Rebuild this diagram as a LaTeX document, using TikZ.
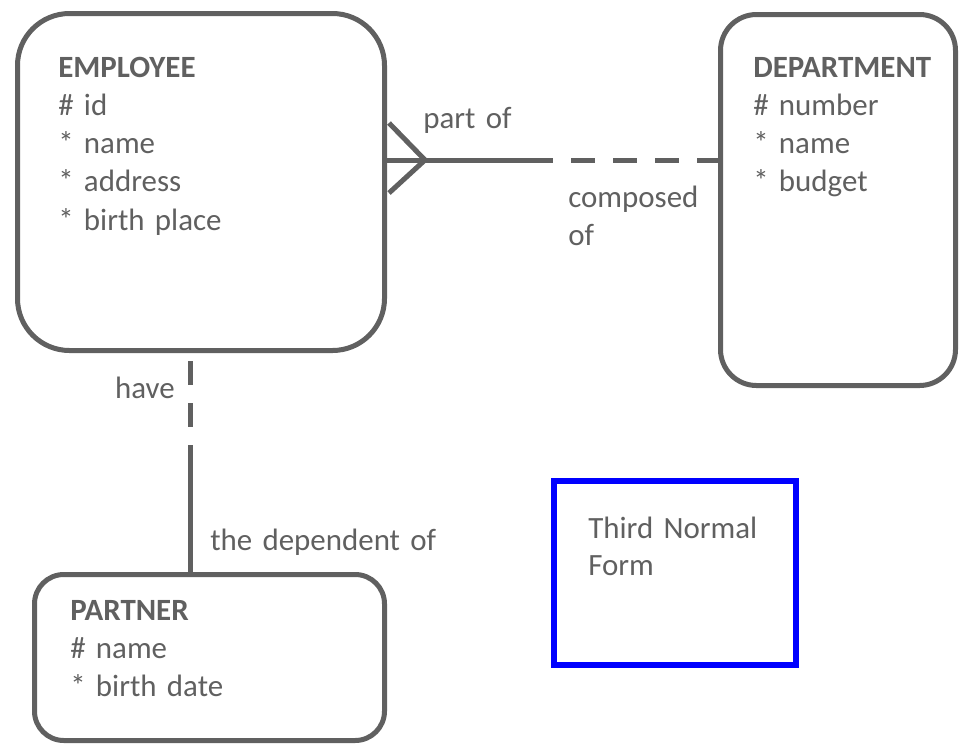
\documentclass[tikz,border=0pt]{standalone}
\usepackage{fontspec}
\setmainfont{Carlito}
\usepackage{xcolor}
\definecolor{erGray}{HTML}{606060}
\definecolor{nfBlue}{HTML}{0000FF}
\newcommand{\pxu}{0.75pt}
\usetikzlibrary{calc}

\begin{document}
\begin{tikzpicture}[x=0.75pt, y=-0.75pt,
    entity/.style={draw=erGray, line width=3.75pt, inner sep=0pt},
    attr/.style={text=erGray, font=\fontsize{23.2}{28.7}\selectfont, inner sep=0pt,
      align=left, text width=#1, anchor=base west},
    attr/.default=180pt,
    rel/.style={draw=erGray, line width=3.75pt},
    optional/.style={rel, dash pattern=on 18pt off 13.5pt}]
  \useasboundingbox (0,0) rectangle (961,744);
  % entities
  \node[entity, rounded corners=39pt, minimum width=367*\pxu, minimum height=337*\pxu]
    (emp) at (201,182) {};
  \node[entity, rounded corners=27pt, minimum width=235*\pxu, minimum height=371*\pxu]
    (dept) at (838,200) {};
  \node[entity, rounded corners=22pt, minimum width=350*\pxu, minimum height=166*\pxu]
    (partner) at (209.5,657.5) {};
  \node[draw=nfBlue, line width=4.5pt, inner sep=0pt, minimum width=242*\pxu,
    minimum height=183.5*\pxu] (nf) at (675,572.75) {};
  % attributes
  \node[attr] (empText) at (58,77)
    {\textbf{EMPLOYEE}\\\# id\\{*} name\\{*} address\\{*} birth place};
  \node[attr] (deptText) at (753,77)
    {\textbf{DEPARTMENT}\\\# number\\{*} name\\{*} budget};
  \node[attr] (partnerText) at (70,620)
    {\textbf{PARTNER}\\\# name\\{*} birth date};
  \node[attr, font=\fontsize{23.2}{27.8}\selectfont] (nfText) at (588,538)
    {Third Normal\\Form};
  % employee -- department
  \coordinate (po) at (553,160);
  \coordinate (cf) at (425,160);
  \draw[rel] (emp.east |- po) -- (po);
  \draw[optional, dash phase=18pt] (po) -- (dept.west |- po);
  \draw[rel, line join=bevel] ($(emp.east |- po)+(2,-37)$) -- (cf)
    -- ($(emp.east |- po)+(2,33)$);
  \node[attr] (partOf) at (423,128) {part of};
  \node[attr, text width=100pt] (composedOf) at (568,207) {composed\\of};
  % employee -- partner
  \coordinate (hv) at (190,462);
  \draw[optional, dash phase=25.5pt] (emp.south -| hv) -- (hv);
  \draw[rel] (hv) -- (partner.north -| hv);
  \node[text=erGray, font=\fontsize{23.2}{28.7}\selectfont, inner sep=0pt,
    anchor=base east] (have) at (175,398) {have};
  \node[attr, text width=200pt] (dependentOf) at (210,550) {the dependent of};
\end{tikzpicture}
\end{document}
